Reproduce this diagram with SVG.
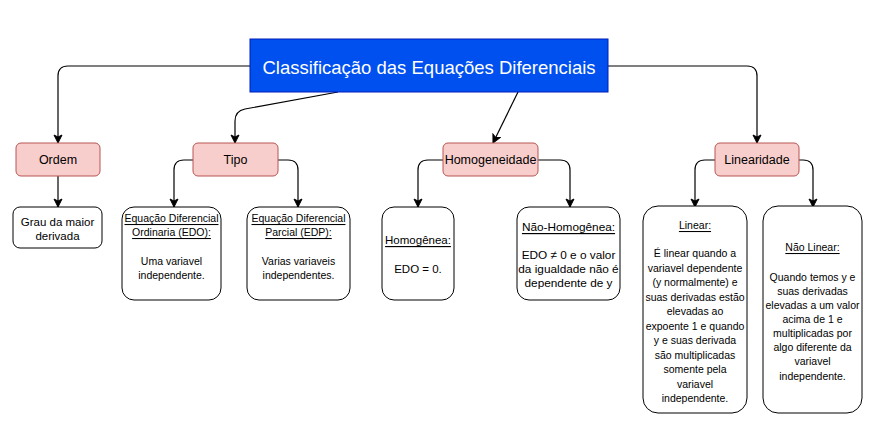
<svg xmlns="http://www.w3.org/2000/svg" width="877" height="430" viewBox="0 0 877 430">
<style>
text{font-family:"Liberation Sans",Arial,sans-serif;text-anchor:middle;dominant-baseline:central;fill:#000}
.pink{fill:#f8cecc;stroke:#b85450;stroke-width:1}
.box{fill:#fff;stroke:#000;stroke-width:1}
.edge{fill:none;stroke:#000;stroke-width:1.2;marker-end:url(#arr)}
.u{text-decoration:underline}
.p{font-size:12.5px}
.s{font-size:10.5px}
</style>
<defs>
<marker id="arr" markerUnits="userSpaceOnUse" markerWidth="10" markerHeight="10" viewBox="0 0 10 10" refX="9" refY="5" orient="auto">
<path d="M1,1 L9,5 L1,9 L3,5 z" fill="#000" stroke="#000" stroke-width="1"/>
</marker>
</defs>
<rect width="877" height="430" fill="#fff"/>
<g id="connectors">
<path class="edge" d="M250,66 H68 Q58,66 58,76 V143"/>
<path class="edge" d="M338,92 L245,109 Q235,111 235,121 V143"/>
<path class="edge" d="M518,92 L493,143"/>
<path class="edge" d="M608,66 H747 Q757,66 757,76 V143"/>
<path class="edge" d="M58,176 V207"/>
<path class="edge" d="M193,160 H184 Q174,160 174,170 V207"/>
<path class="edge" d="M278,160 H288 Q298,160 298,170 V207"/>
<path class="edge" d="M443,160 H428 Q418,160 418,170 V207"/>
<path class="edge" d="M538,160 H560 Q570,160 570,170 V207"/>
<path class="edge" d="M715,160 H705 Q695,160 695,170 V207"/>
<path class="edge" d="M799,160 H803 Q813,160 813,170 V207"/>
</g>
<g id="title">
<rect x="250" y="39" width="358" height="53" fill="#0050ef" stroke="#001dbc"/>
<text x="429" y="67" font-size="18.5" style="fill:#fff">Classificação das Equações Diferenciais</text>
</g>
<g id="ordem">
<rect class="pink" x="16" y="143" width="84" height="33" rx="5"/>
<text class="p" x="58" y="160">Ordem</text>
</g>
<g id="tipo">
<rect class="pink" x="193" y="143" width="85" height="33" rx="5"/>
<text class="p" x="235.5" y="160">Tipo</text>
</g>
<g id="homogeneidade">
<rect class="pink" x="443" y="143" width="95" height="33" rx="5"/>
<text class="p" x="490.5" y="160">Homogeneidade</text>
</g>
<g id="linearidade">
<rect class="pink" x="715" y="143" width="84" height="33" rx="5"/>
<text class="p" x="757" y="160">Linearidade</text>
</g>
<g id="grau">
<rect class="box" x="13" y="207" width="89" height="41" rx="7"/>
<text x="57.5" y="222" font-size="11.5">Grau da maior</text>
<text x="57.5" y="236" font-size="11.5">derivada</text>
</g>
<g id="edo">
<rect class="box" x="122" y="207" width="99" height="93" rx="12"/>
<text class="s u" x="171.5" y="218">Equação Diferencial</text>
<text class="s u" x="171.5" y="232">Ordinaria (EDO):</text>
<text class="s" x="171.5" y="261">Uma variavel</text>
<text class="s" x="171.5" y="275">independente.</text>
</g>
<g id="edp">
<rect class="box" x="247" y="207" width="103" height="93" rx="12"/>
<text class="s u" x="298.5" y="218">Equação Diferencial</text>
<text class="s u" x="298.5" y="232">Parcial (EDP):</text>
<text class="s" x="298.5" y="261">Varias variaveis</text>
<text class="s" x="298.5" y="275">independentes.</text>
</g>
<g id="homogenea">
<rect class="box" x="382" y="207" width="72" height="93" rx="12"/>
<text class="u" x="418" y="240" font-size="11.5">Homogênea:</text>
<text x="418" y="269" font-size="11.5">EDO = 0.</text>
</g>
<g id="nao-homogenea">
<rect class="box" x="517" y="207" width="103" height="93" rx="12"/>
<text class="u" x="568.5" y="227" font-size="11.8">Não-Homogênea:</text>
<text x="568.5" y="255" font-size="11.8">EDO ≠ 0 e o valor</text>
<text x="568.5" y="269" font-size="11.8">da igualdade não é</text>
<text x="568.5" y="283" font-size="11.8">dependente de y</text>
</g>
<g id="linear">
<rect class="box" x="643" y="206" width="104" height="207" rx="15"/>
<text class="s u" x="695" y="225">Linear:</text>
<text class="s" x="695" y="253">É linear quando a</text>
<text class="s" x="695" y="268">variavel dependente</text>
<text class="s" x="695" y="282">(y normalmente) e</text>
<text class="s" x="695" y="297">suas derivadas estão</text>
<text class="s" x="695" y="311">elevadas ao</text>
<text class="s" x="695" y="326">expoente 1 e quando</text>
<text class="s" x="695" y="340">y e suas derivada</text>
<text class="s" x="695" y="355">são multiplicadas</text>
<text class="s" x="695" y="369">somente pela</text>
<text class="s" x="695" y="384">variavel</text>
<text class="s" x="695" y="398">independente.</text>
</g>
<g id="nao-linear">
<rect class="box" x="763" y="206" width="99" height="207" rx="15"/>
<text class="s u" x="812.5" y="247">Não Linear:</text>
<text class="s" x="812.5" y="277">Quando temos y e</text>
<text class="s" x="812.5" y="291">suas derivadas</text>
<text class="s" x="812.5" y="305">elevadas a um valor</text>
<text class="s" x="812.5" y="319">acima de 1 e</text>
<text class="s" x="812.5" y="333">multiplicadas por</text>
<text class="s" x="812.5" y="347">algo diferente da</text>
<text class="s" x="812.5" y="361">variavel</text>
<text class="s" x="812.5" y="376">independente.</text>
</g>
</svg>
